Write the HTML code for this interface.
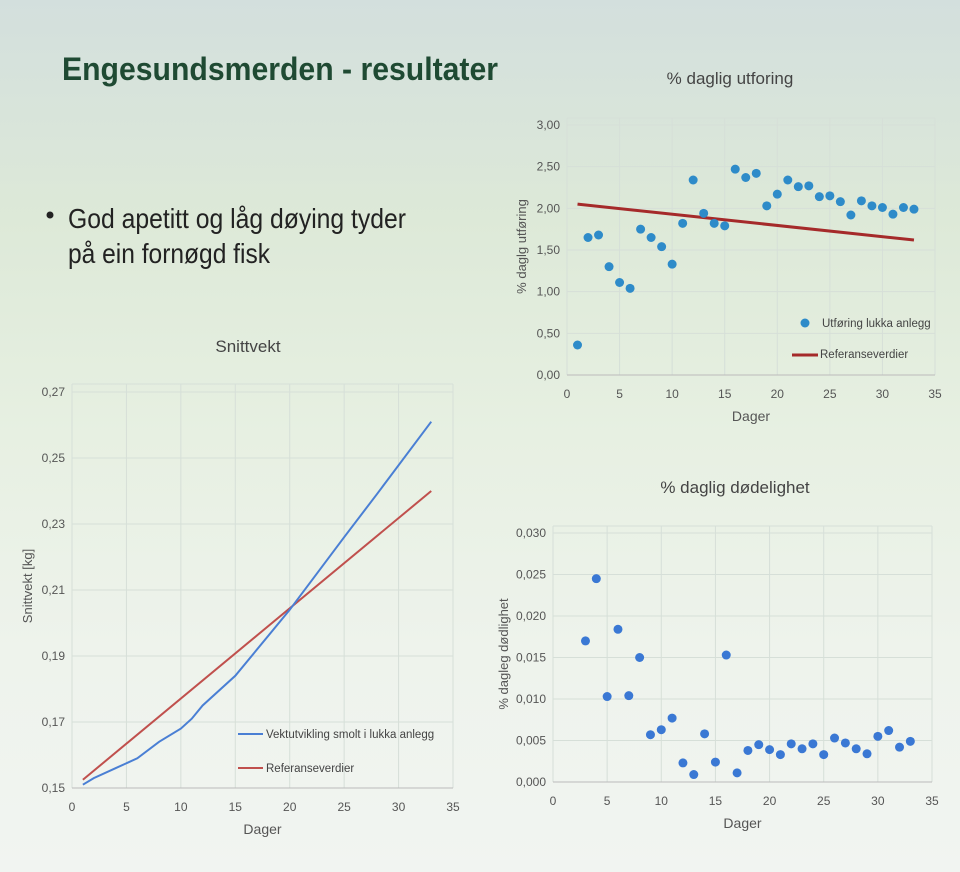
<!DOCTYPE html>
<html><head><meta charset="utf-8"><style>
html,body{margin:0;padding:0;width:960px;height:872px;overflow:hidden}
body{background:linear-gradient(180deg,#d3dfdd 0%,#dde9d8 25%,#e7f0e2 50%,#eef3ec 75%,#f1f4f1 100%)}
svg{position:absolute;left:0;top:0}
text{font-family:"Liberation Sans",sans-serif}
</style></head><body>
<svg id="s" width="960" height="872" viewBox="0 0 960 872">
<text x="62" y="80" font-size="32" font-weight="bold" fill="#1f4a33" textLength="436" lengthAdjust="spacingAndGlyphs">Engesundsmerden - resultater</text>
<circle cx="50" cy="215" r="3.5" fill="#222"/>
<text x="68" y="228" font-size="28" fill="#222" textLength="338" lengthAdjust="spacingAndGlyphs">God apetitt og låg døying tyder</text>
<text x="68" y="263" font-size="28" fill="#222" textLength="202" lengthAdjust="spacingAndGlyphs">på ein fornøgd fisk</text>
</svg>
<script>
var s=document.getElementById('s'),NS='http://www.w3.org/2000/svg';
function el(t,a,txt){var e=document.createElementNS(NS,t);for(var k in a)e.setAttribute(k,a[k]);if(txt!=null)e.textContent=txt;s.appendChild(e);return e;}
function chart(o){
 var X=function(v){return o.x0+(o.x1-o.x0)*v/35},Y=function(v){return o.y0+(o.y1-o.y0)*(v-o.ymin)/(o.ymax-o.ymin)};
 for(var i=0;i<=7;i++){var xx=X(i*5);el('line',{x1:xx,y1:o.top,x2:xx,y2:o.y0,stroke:'#d6dfd8','stroke-width':1});
  el('text',{x:xx,y:o.y0+23,'font-size':12,fill:'#555','text-anchor':'middle'},String(i*5));}
 el('line',{x1:o.x0,y1:o.top,x2:o.x1,y2:o.top,stroke:'#d6dfd8'});
 for(var j=0;j<o.ticks.length;j++){var yy=Y(o.ticks[j][0]);el('line',{x1:o.x0,y1:yy,x2:o.x1,y2:yy,stroke:'#d6dfd8'});
  el('text',{x:o.x0-7,y:yy+4,'font-size':12,fill:'#555','text-anchor':'end'},o.ticks[j][1]);}
 el('line',{x1:o.x0,y1:o.y0,x2:o.x1,y2:o.y0,stroke:'#bbb'});
 el('text',{x:(o.x0+o.x1)/2,y:o.y0+46,'font-size':14,fill:'#555','text-anchor':'middle'},'Dager');
 el('text',{x:o.tx,y:o.ty,'font-size':17,fill:'#444','text-anchor':'middle'},o.title);
 el('text',{x:0,y:0,'font-size':13,fill:'#555','text-anchor':'middle',transform:'translate('+o.ylx+','+(o.y0+o.top)/2+') rotate(-90)'},o.ylab);
 o.series.forEach(function(se){
  if(se.type=='line'){var p=se.d.map(function(d){return X(d[0])+','+Y(d[1])}).join(' ');el('polyline',{points:p,fill:'none',stroke:se.c,'stroke-width':se.w});}
  else se.d.forEach(function(d){el('circle',{cx:X(d[0]),cy:Y(d[1]),r:4.5,fill:se.c});});
 });
 return {X:X,Y:Y};
}
chart({x0:72,x1:453,y0:788,y1:392,top:384,ymin:0.15,ymax:0.27,ticks:[[0.15,'0,15'],[0.17,'0,17'],[0.19,'0,19'],[0.21,'0,21'],[0.23,'0,23'],[0.25,'0,25'],[0.27,'0,27']],
 title:'Snittvekt',tx:248,ty:352,ylab:'Snittvekt [kg]',ylx:32,
 series:[{type:'line',c:'#c0504d',w:2,d:[[1,0.1525],[33,0.240]]},
 {type:'line',c:'#4a7fd4',w:2,d:[[1,0.151],[2,0.153],[4,0.156],[5,0.1575],[6,0.159],[8,0.164],[10,0.168],[11,0.171],[12,0.175],[15,0.184],[17,0.192],[20,0.204],[25,0.226],[28,0.239],[33,0.261]]}]});
el('line',{x1:238,y1:734,x2:263,y2:734,stroke:'#4a7fd4','stroke-width':2});
el('text',{x:266,y:738,'font-size':11.5,fill:'#444'},'Vektutvikling smolt i lukka anlegg');
el('line',{x1:238,y1:768,x2:263,y2:768,stroke:'#c0504d','stroke-width':2});
el('text',{x:266,y:772,'font-size':11.5,fill:'#444'},'Referanseverdier');
var d2=[0.36,1.65,1.68,1.30,1.11,1.04,1.75,1.65,1.54,1.33,1.82,2.34,1.94,1.82,1.79,2.47,2.37,2.42,2.03,2.17,2.34,2.26,2.27,2.14,2.15,2.08,1.92,2.09,2.03,2.01,1.93,2.01,1.99];
chart({x0:567,x1:935,y0:375,y1:125,top:118,ymin:0,ymax:3,ticks:[[0,'0,00'],[0.5,'0,50'],[1,'1,00'],[1.5,'1,50'],[2,'2,00'],[2.5,'2,50'],[3,'3,00']],
 title:'% daglig utforing',tx:730,ty:84,ylab:'% daglg utføring',ylx:526,
 series:[{type:'line',c:'#a52a2a',w:3,d:[[1,2.05],[33,1.62]]},{type:'dot',c:'#2e8bc9',d:d2.map(function(v,i){return [i+1,v]})}]});
el('circle',{cx:805,cy:323,r:4.5,fill:'#2e8bc9'});
el('text',{x:822,y:327,'font-size':11.5,fill:'#444'},'Utføring lukka anlegg');
el('line',{x1:792,y1:355,x2:818,y2:355,stroke:'#a52a2a','stroke-width':3});
el('text',{x:820,y:358,'font-size':11.5,fill:'#444'},'Referanseverdier');
var d3=[[3,0.017],[4,0.0245],[5,0.0103],[6,0.0184],[7,0.0104],[8,0.015],[9,0.0057],[10,0.0063],[11,0.0077],[12,0.0023],[13,0.0009],[14,0.0058],[15,0.0024],[16,0.0153],[17,0.0011],[18,0.0038],[19,0.0045],[20,0.0039],[21,0.0033],[22,0.0046],[23,0.004],[24,0.0046],[25,0.0033],[26,0.0053],[27,0.0047],[28,0.004],[29,0.0034],[30,0.0055],[31,0.0062],[32,0.0042],[33,0.0049]];
chart({x0:553,x1:932,y0:782,y1:533,top:526,ymin:0,ymax:0.03,ticks:[[0,'0,000'],[0.005,'0,005'],[0.01,'0,010'],[0.015,'0,015'],[0.02,'0,020'],[0.025,'0,025'],[0.03,'0,030']],
 title:'% daglig dødelighet',tx:735,ty:493,ylab:'% dagleg dødlighet',ylx:508,
 series:[{type:'dot',c:'#3a78d4',d:d3}]});
</script>
</body></html>
